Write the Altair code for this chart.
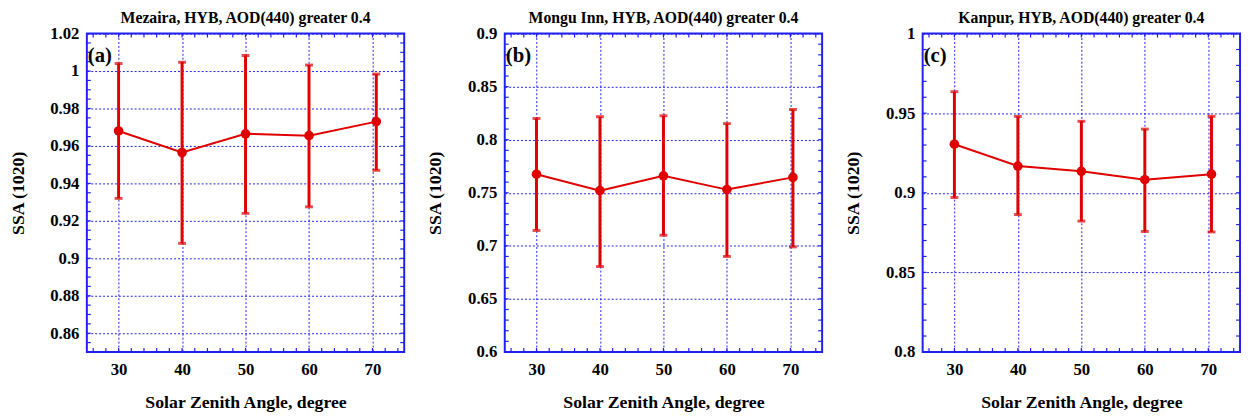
import altair as alt
import pandas as pd

# ---- data ----
sza_a = [30, 40, 50, 60, 70.6]
ssa_a = [0.968, 0.9565, 0.9665, 0.9655, 0.973]
lo_a = [0.932, 0.908, 0.924, 0.9275, 0.947]
hi_a = [1.004, 1.0047, 1.0083, 1.0032, 0.9984]

sza_b = [30, 40, 50, 60, 70.4]
ssa_b = [0.7675, 0.752, 0.766, 0.753, 0.7645]
lo_b = [0.7145, 0.6805, 0.710, 0.690, 0.699]
hi_b = [0.820, 0.8217, 0.8226, 0.8152, 0.8285]

sza_c = [30, 40, 50, 60, 70.5]
ssa_c = [0.9305, 0.9168, 0.9135, 0.9082, 0.9117]
lo_c = [0.897, 0.8863, 0.8822, 0.8757, 0.8754]
hi_c = [0.9635, 0.948, 0.9449, 0.940, 0.948]

titles = ["Mezaira, HYB, AOD(440) greater 0.4",
          "Mongu Inn, HYB, AOD(440) greater 0.4",
          "Kanpur, HYB, AOD(440) greater 0.4"]
panel_tags = ["(a)", "(b)", "(c)"]

x_major = [30, 40, 50, 60, 70]
x_minor = [26 + 2 * i for i in range(25)]

y_domain_a = [0.85, 1.02]
y_major_a = [0.86, 0.88, 0.90, 0.92, 0.94, 0.96, 0.98, 1.00, 1.02]
y_minor_a = [round(0.85 + 0.005 * i, 4) for i in range(35)]

y_domain_b = [0.6, 0.9]
y_major_b = [0.60, 0.65, 0.70, 0.75, 0.80, 0.85, 0.90]
y_minor_b = [round(0.6 + 0.01 * i, 4) for i in range(31)]

y_domain_c = [0.8, 1.0]
y_major_c = [0.80, 0.85, 0.90, 0.95, 1.00]
y_minor_c = [round(0.8 + 0.01 * i, 4) for i in range(21)]

x_title = "Solar Zenith Angle, degree"
y_title = "SSA (1020)"

W, H = 322, 323
RED = "#e00000"
BLUE = "#2020f0"
FONT = "Times New Roman, Liberation Serif, DejaVu Serif, serif"
TL = 4


def panel(sza, ssa, lo, hi, ydom, ymaj, ymin, title, tag):
    df = pd.DataFrame({"x": sza, "y": ssa, "lo": lo, "hi": hi})
    xs = alt.Scale(domain=[25, 75], nice=False, zero=False)
    ys = alt.Scale(domain=ydom, nice=False, zero=False)
    xax = alt.Axis(values=x_major, title=x_title, grid=True, ticks=False,
                   domain=False, labelPadding=10, titlePadding=16)
    yax = alt.Axis(values=ymaj, title=y_title, grid=True, ticks=False,
                   domain=False, labelPadding=8, titlePadding=23,
                   format=".2~f")
    base = alt.Chart(df)
    err = base.mark_rule(color=RED, strokeWidth=3).encode(
        x=alt.X("x:Q", scale=xs, axis=xax),
        y=alt.Y("lo:Q", scale=ys, axis=yax),
        y2="hi:Q")
    cap_lo = base.mark_tick(color=RED, orient="horizontal", size=8,
                            thickness=3).encode(
        x=alt.X("x:Q", scale=xs), y=alt.Y("lo:Q", scale=ys))
    cap_hi = base.mark_tick(color=RED, orient="horizontal", size=8,
                            thickness=3).encode(
        x=alt.X("x:Q", scale=xs), y=alt.Y("hi:Q", scale=ys))
    line = base.mark_line(color=RED, strokeWidth=2).encode(
        x=alt.X("x:Q", scale=xs), y=alt.Y("y:Q", scale=ys))
    pts = base.mark_circle(color=RED, size=95, opacity=1).encode(
        x=alt.X("x:Q", scale=xs), y=alt.Y("y:Q", scale=ys))

    xt = alt.Chart(pd.DataFrame({"t": x_minor}))
    yt = alt.Chart(pd.DataFrame({"t": ymin}))
    tb = xt.mark_rule(color=BLUE, strokeWidth=1.2).encode(
        x=alt.X("t:Q", scale=xs), y=alt.value(H), y2=alt.value(H - TL))
    tt = xt.mark_rule(color=BLUE, strokeWidth=1.2).encode(
        x=alt.X("t:Q", scale=xs), y=alt.value(0), y2=alt.value(TL))
    tlft = yt.mark_rule(color=BLUE, strokeWidth=1.2).encode(
        y=alt.Y("t:Q", scale=ys), x=alt.value(0), x2=alt.value(TL))
    trt = yt.mark_rule(color=BLUE, strokeWidth=1.2).encode(
        y=alt.Y("t:Q", scale=ys), x=alt.value(W), x2=alt.value(W - TL))

    lab = alt.Chart(pd.DataFrame({"s": [tag]})).mark_text(
        font=FONT, fontSize=21, fontWeight="bold", align="left",
        baseline="alphabetic", color="black").encode(
        text="s:N", x=alt.value(1), y=alt.value(29))

    return alt.layer(err, tb, tt, tlft, trt, line, cap_lo, cap_hi, pts, lab).properties(
        width=W, height=H, title=title)


pa = panel(sza_a, ssa_a, lo_a, hi_a, y_domain_a, y_major_a, y_minor_a, titles[0], panel_tags[0])
pb = panel(sza_b, ssa_b, lo_b, hi_b, y_domain_b, y_major_b, y_minor_b, titles[1], panel_tags[1])
pc = panel(sza_c, ssa_c, lo_c, hi_c, y_domain_c, y_major_c, y_minor_c, titles[2], panel_tags[2])

chart = alt.hconcat(pa, pb, pc, spacing=20).resolve_scale(y="independent").properties(
    padding={"left": 0, "top": -2, "right": 0, "bottom": 0}
).configure_view(
    stroke=BLUE, strokeWidth=2
).configure_axis(
    labelFont=FONT, labelFontSize=17, labelFontWeight="bold", labelColor="black",
    titleFont=FONT, titleFontSize=18, titleFontWeight="bold", titleColor="black",
    gridColor=BLUE, gridDash=[2, 2], gridWidth=1, gridOpacity=1
).configure_title(
    font=FONT, fontSize=16, fontWeight="bold", color="black", anchor="middle",
    offset=-1, frame="group"
)

chart.save("out.html", embed_options={"renderer": "svg", "actions": False})
